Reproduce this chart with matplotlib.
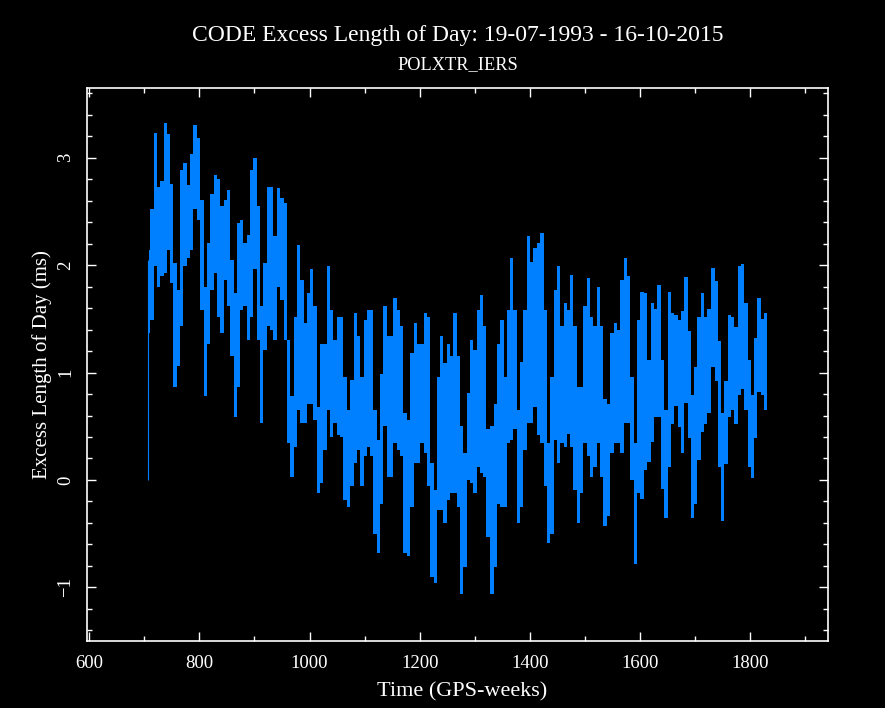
import numpy as np
import matplotlib.pyplot as plt
from matplotlib.ticker import MultipleLocator

weeks = [706, 708, 714, 720, 726, 732, 738, 744, 750, 756, 762, 768, 774, 780, 786,
         792, 798, 805, 811, 817, 823, 829, 835, 841, 847, 853, 859, 865, 871,
         877, 883, 889, 895, 901, 907, 913, 919, 925, 931, 938, 944, 950, 956, 962,
         968, 974, 980, 986, 992, 998, 1004, 1010, 1016, 1022, 1028, 1034, 1040, 1046, 1052,
         1058, 1065, 1071, 1077, 1083, 1089, 1095, 1101, 1107, 1113, 1119, 1125, 1131, 1137,
         1143, 1149, 1155, 1161, 1167, 1173, 1180, 1186, 1192, 1198, 1204, 1210, 1216, 1222,
         1228, 1234,
         1240, 1246, 1252, 1258, 1264, 1270, 1276, 1282, 1288, 1294, 1300, 1306, 1312, 1318,
         1324, 1331, 1337, 1343, 1349, 1355, 1361, 1367, 1373, 1379, 1385, 1391, 1397, 1403,
         1409, 1415,
         1422, 1428, 1434, 1440, 1446, 1452, 1458, 1464, 1470, 1476, 1482, 1488, 1494, 1500,
         1506, 1512, 1518, 1524, 1530, 1536, 1543, 1549, 1555, 1561, 1567, 1573, 1579, 1585,
         1591, 1597,
         1604, 1610, 1616, 1622, 1628, 1635, 1641, 1647, 1653, 1659, 1665, 1671, 1677, 1683,
         1689, 1695, 1701, 1707, 1713, 1719, 1725, 1732, 1738, 1744, 1750, 1756, 1762, 1768,
         1774, 1780, 1786, 1792, 1798, 1804, 1810, 1816, 1822, 1828, 1831]

lod_high = [2.05, 2.14, 2.52, 3.23, 2.73, 2.78, 3.32, 3.22, 2.76, 2.02, 1.77, 2.89, 2.95, 2.75, 3.04,
            3.31, 3.18, 2.61, 1.80, 2.21, 2.66, 2.84, 2.80, 2.55, 2.61, 2.70, 2.05, 1.74, 2.39,
            2.42, 2.21, 2.28, 2.89, 3.00, 2.55, 1.62, 2.02, 2.73, 2.73, 2.27, 2.72, 2.63, 2.58, 1.30,
            0.78, 1.52, 2.19, 1.86, 1.46, 1.74, 1.96, 1.62, 0.68, 1.27, 1.27, 1.99, 1.58, 1.30, 1.52,
            1.52, 0.96, 0.65, 0.93, 1.55, 1.34, 0.96, 1.49, 1.58, 1.58, 0.65, 0.37, 0.99, 1.62,
            1.34, 1.34, 1.69, 1.58, 1.43, 0.62, 0.56, 1.18, 1.46, 1.27, 1.27, 1.55, 1.52, 0.16,
            -0.09, 0.96,
            1.34, 1.09, 1.27, 1.15, 1.55, 1.15, 0.50, 0.25, 0.81, 1.30, 1.21, 1.58, 1.72, 1.43,
            0.47, 0.50, 0.71, 1.27, 1.49, 0.96, 1.58, 2.07, 1.58, 0.65, 1.10, 1.58, 2.27, 2.03,
            2.16, 2.21,
            2.30, 1.58, 0.34, 0.96, 1.77, 1.99, 1.43, 1.65, 1.58, 1.91, 1.43, 0.87, 0.87, 1.62,
            1.88, 1.52, 1.43, 1.80, 1.43, 0.75, 0.71, 1.37, 1.46, 1.40, 1.86, 2.07, 1.90, 0.96,
            0.34, 1.49,
            1.75, 1.74, 1.12, 1.65, 1.59, 1.82, 1.12, 0.65, 1.75, 1.55, 1.54, 1.49, 1.57, 1.89,
            1.39, 0.79, 1.05, 1.52, 1.74, 1.52, 1.59, 1.97, 1.85, 1.29, 0.62, 0.92, 1.54, 1.52,
            1.42, 1.99, 2.01, 1.65, 1.12, 0.79, 1.32, 1.69, 1.50, 1.55, 1.15]

lod_low = [0.00, 1.37, 1.49, 1.99, 1.80, 1.90, 1.93, 2.14, 1.83, 0.87, 1.06, 1.43, 1.99, 2.07, 2.14,
           2.52, 2.42, 1.58, 0.78, 1.27, 1.77, 1.93, 1.52, 1.37, 1.86, 1.62, 1.15, 0.59, 0.87,
           1.58, 1.62, 1.30, 1.52, 1.96, 1.30, 0.53, 1.21, 1.43, 1.40, 1.30, 1.80, 1.68, 1.30, 0.34,
           0.03, 0.31, 0.65, 0.53, 0.53, 0.71, 0.71, 0.56, -0.12, -0.03, 0.28, 0.65, 0.40, 0.53, 0.42,
           0.40, -0.19, -0.25, -0.06, 0.16, 0.28, -0.06, 0.22, 0.31, 0.22, -0.50, -0.68, -0.22, 0.50,
           0.03, 0.03, 0.34, 0.28, 0.22, -0.68, -0.71, -0.25, 0.16, 0.16, 0.34, 0.25, -0.06, -0.90,
           -0.96, -0.28,
           -0.28, -0.40, -0.19, -0.12, -0.12, -0.25, -1.06, -0.81, 0.00, -0.03, -0.12, 0.12, 0.06, 0.03,
           -0.53, -1.06, -0.81, -0.22, -0.25, -0.25, 0.34, 0.37, 0.47, -0.40, -0.25, 0.28, 0.53, 0.53,
           0.68, 0.42,
           0.34, -0.06, -0.59, -0.50, 0.37, 0.16, 0.34, 0.31, 0.43, 0.31, -0.09, -0.40, -0.12, 0.34,
           0.22, 0.03, 0.12, 0.34, 0.03, -0.43, -0.34, 0.25, 0.34, 0.34, 0.25, 0.53, 0.53, 0.00,
           -0.78, -0.12,
           -0.18, 0.09, 0.17, 0.35, 0.59, 0.59, -0.08, -0.35, 0.12, 0.52, 0.69, 0.49, 0.25, 0.72,
           0.39, -0.35, -0.22, 0.19, 0.45, 0.52, 0.62, 1.05, 0.92, 0.12, -0.38, 0.15, 0.59, 0.65,
           0.52, 0.79, 0.85, 0.65, 0.12, 0.02, 0.39, 0.82, 0.79, 0.65, 1.15]

title = 'CODE Excess Length of Day: 19-07-1993 - 16-10-2015'
subtitle = 'POLXTR_IERS'

plt.rcParams['font.family'] = ['Liberation Serif', 'DejaVu Serif']

blue = '#0080ff'
w = np.asarray(weeks, dtype=float)
lo = np.asarray(lod_low)
hi = np.asarray(lod_high)

fig = plt.figure(figsize=(8.85, 7.08), dpi=100, facecolor='black')
ax = fig.add_axes([87 / 885, 1 - 641 / 708, 741 / 885, 553 / 708])
ax.set_facecolor('black')
# first day drops to zero; the rest is drawn as daily-scatter columns
ax.vlines(w[0], lo[0], hi[0], color=blue, lw=0.8)
ax.fill_between(w[1:], lo[1:], hi[1:], step='mid', color=blue, lw=0)

ax.set_xlim(596, 1941)
ax.set_ylim(-1.5, 3.65)
ax.xaxis.set_major_locator(MultipleLocator(200))
ax.xaxis.set_minor_locator(MultipleLocator(100))
ax.yaxis.set_major_locator(MultipleLocator(1))
ax.yaxis.set_minor_locator(MultipleLocator(0.2))
ax.tick_params(which='both', direction='in', top=True, right=True, colors='white')
ax.tick_params(which='major', length=6.5, width=1)
ax.tick_params(which='minor', length=3.3, width=1)
ax.tick_params(axis='x', pad=10, labelsize=13.5)
ax.tick_params(axis='y', pad=9, labelsize=13.5)
for lab in ax.get_yticklabels():
    lab.set_rotation(90)
    lab.set_va('center')
for s in ax.spines.values():
    s.set_color('white')
    s.set_linewidth(1.2)

fig.text(457.5 / 885, 1 - 36 / 708, title, color='white', fontsize=17, ha='center', va='center')
fig.text(457.5 / 885, 1 - 65 / 708, subtitle, color='white', fontsize=13.2, ha='center', va='center')
fig.text(462 / 885, 1 - 692 / 708, 'Time (GPS-weeks)', color='white', fontsize=16,
         ha='center', va='center')
fig.text(42 / 885, 1 - 364.5 / 708, 'Excess Length of Day (ms)', color='white', fontsize=15,
         ha='center', va='center', rotation=90)

fig.savefig('out.png', dpi=100, facecolor='black')
